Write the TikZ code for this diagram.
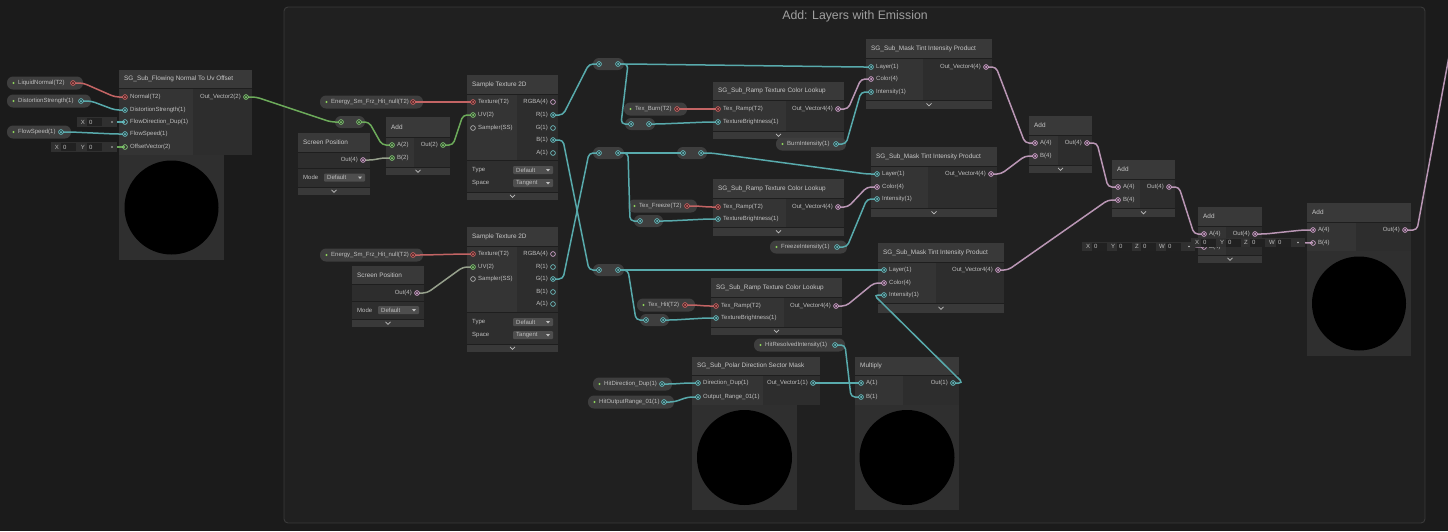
\documentclass[tikz,border=0pt]{standalone}
\usepackage{fontspec}
\setmainfont{Liberation Sans}
\usetikzlibrary{calc}
\pgfdeclarelayer{bodies}
\pgfdeclarelayer{wires}
\pgfsetlayers{bodies,wires,main}
\definecolor{bgc}{RGB}{27,27,27}
\definecolor{grpc}{RGB}{32,32,32}
\definecolor{frmc}{RGB}{58,58,58}
\definecolor{hdrc}{RGB}{57,57,57}
\definecolor{inc}{RGB}{52,52,52}
\definecolor{outc}{RGB}{45,45,45}
\definecolor{sepc}{RGB}{30,30,30}
\definecolor{optc}{RGB}{46,46,46}
\definecolor{prevc}{RGB}{47,47,47}
\definecolor{pillc}{RGB}{62,62,62}
\definecolor{ddc}{RGB}{78,78,78}
\definecolor{fldc}{RGB}{48,48,48}
\definecolor{fldv}{RGB}{33,33,33}
\definecolor{lblc}{RGB}{190,190,190}
\definecolor{ttlc}{RGB}{200,200,200}
\definecolor{grtc}{RGB}{160,160,160}
\definecolor{dotc}{RGB}{140,210,90}
\definecolor{cyp}{RGB}{120,210,213}
\definecolor{pkp}{RGB}{230,180,225}
\definecolor{grp}{RGB}{145,220,130}
\definecolor{rdp}{RGB}{225,110,110}
\definecolor{gyp}{RGB}{190,190,190}
\definecolor{cyw}{RGB}{88,170,172}
\definecolor{pkw}{RGB}{185,150,180}
\definecolor{grw}{RGB}{108,170,90}
\definecolor{rdw}{RGB}{195,100,100}
\definecolor{mxw}{RGB}{150,160,140}
\newcommand\lblfont{\fontsize{6}{7}\selectfont}
\newcommand\ttlfont{\fontsize{6.4}{7.5}\selectfont}
\newcommand\grfont{\fontsize{12.3}{14}\selectfont}
\tikzset{
 lbl/.style={text=lblc,font=\lblfont,inner sep=0pt},
 ttl/.style={text=ttlc,font=\ttlfont,inner sep=0pt,anchor=west},
 prt/.style={circle,draw=#1,line width=0.6pt,fill=#1!30!black,inner sep=0pt,minimum size=4.8pt,path picture={\fill[#1] (path picture bounding box.center) circle (1pt);}},
 prth/.style={circle,draw=#1,line width=0.6pt,fill=none,inner sep=0pt,minimum size=4.8pt},
 wr/.style={draw=#1,line width=1.5pt,rounded corners=4pt},
}
% node frame: name x1 top x2 headerbottom bodybottom split title
\newcommand\sgframe[8]{%
 \begin{pgfonlayer}{bodies}
 \fill[hdrc] (#2,#3) rectangle (#4,#5);
 \fill[inc] (#2,#5) rectangle (#7,#6);
 \fill[outc] (#7,#5) rectangle (#4,#6);
 \draw[sepc,line width=0.8pt] (#2,#5) -- (#4,#5);
 \end{pgfonlayer}
 \node[ttl] (#1) at ({#2+5},{(#3+#5)/2}) {#8};}
% footer: name x1 x2 y1 y2
\newcommand\sgfoot[5]{%
 \begin{pgfonlayer}{bodies}
 \fill[hdrc] (#2,#4) rectangle (#3,#5);
 \draw[sepc,line width=0.8pt] (#2,#4) -- (#3,#4);
 \end{pgfonlayer}
 \coordinate (#1) at ({(#2+#3)/2},{(#4+#5)/2});
 \draw[lblc,line width=0.7pt] ($(#1)+(-2.5,-1.2)$) -- ($(#1)+(0,1.3)$) -- ($(#1)+(2.5,-1.2)$);}
\newcommand\pin[5]{%
 \node[#4] (#1) at (#2,#3) {};
 \node[lbl,anchor=west] (#1-t) at ({#2+5},#3) {#5};}
\newcommand\pout[5]{%
 \node[#4] (#1) at (#2,#3) {};
 \node[lbl,anchor=east] (#1-t) at ({#2-5},#3) {#5};}
% pill: name x1 x2 y portstyle label
\newcommand\pill[6]{%
 \begin{pgfonlayer}{bodies}
 \fill[pillc,rounded corners=6pt] (#2,{#4-6.5}) rectangle (#3,{#4+6.5});
 \end{pgfonlayer}
 \fill[dotc] ({#2+6.5},#4) circle (1.2pt);
 \node[lbl,anchor=west] (#1-t) at ({#2+11},#4) {#6};
 \node[#5] (#1) at ({#3-10},#4) {};}
% reroute: name x1 x2 y color
\newcommand\rer[5]{%
 \begin{pgfonlayer}{bodies}
 \fill[pillc,rounded corners=6pt] (#2,{#4-6}) rectangle (#3,{#4+6});
 \end{pgfonlayer}
 \node[prt=#5] (#1-i) at ({#2+6},#4) {};
 \node[prt=#5] (#1-o) at ({#3-6},#4) {};}
% dropdown: name x1 x2 y text
\newcommand\ddown[5]{%
 \begin{pgfonlayer}{bodies}
 \fill[ddc,rounded corners=1pt] (#2,{#4-4}) rectangle (#3,{#4+4});
 \end{pgfonlayer}
 \node[lbl,anchor=west] (#1) at ({#2+3},#4) {#5};
 \fill[lblc] ({#3-7},{#4-1}) -- ({#3-3},{#4-1}) -- ({#3-5},{#4+1.5}) -- cycle;}
% field segment: name x y letter
\newcommand\fseg[4]{%
 \node[lbl] (#1) at (#2,#3) {#4};
 \fill[fldv] ({#2+4},{#3-4}) rectangle ({#2+19},{#3+4});
 \node[lbl,anchor=west] (#1v) at ({#2+6},#3) {0};}
\newcommand\wire[3]{\draw[wr=#1] (#2.center) -- ++(10,0) -- ($(#3.center)+(-10,0)$) -- (#3.center);}
\begin{document}
\begin{tikzpicture}[x=1pt,y=-1pt]
\useasboundingbox (0,0) rectangle (1448,531);
\begin{pgfonlayer}{bodies}
\fill[bgc] (0,0) rectangle (1448,531);
\draw[frmc,fill=grpc,rounded corners=4pt,line width=0.9pt] (284,7) rectangle (1425,523);
\end{pgfonlayer}
\node[font=\grfont,text=grtc,inner sep=0pt] (gtitle) at (855,16) {Add: Layers with Emission};

% ---- left inputs
\pill{pLN}{7}{83}{83}{prt=rdp}{LiquidNormal(T2)}
\pill{pDS}{7}{91}{101}{prt=cyp}{DistortionStrength(1)}
\pill{pFS}{7}{71}{132}{prt=cyp}{FlowSpeed(1)}

% ---- Flowing normal node
\sgframe{F}{119}{70}{252}{88}{155}{193}{SG\_Sub\_Flowing Normal To Uv Offset}
\pin{F-n}{125}{97}{prt=rdp}{Normal(T2)}
\pin{F-d}{125}{110}{prt=cyp}{DistortionStrength(1)}
\pin{F-fd}{125}{122}{prth=cyp}{FlowDirection\_Dup(1)}
\pin{F-fs}{125}{134}{prt=cyp}{FlowSpeed(1)}
\pin{F-ov}{125}{147}{prth=grp}{OffsetVector(2)}
\pout{F-o}{246}{97}{prt=grp}{Out\_Vector2(2)}
\begin{pgfonlayer}{bodies}
\fill[prevc] (119,155) rectangle (224,260);
\fill[black] (171.5,207.5) circle (47);
\end{pgfonlayer}
\fill[fldc] (77,117) rectangle (117,127);
\fseg{fa1}{83}{122}{X}
\coordinate (fdot1) at (112,122);
\fill[lblc] (fdot1) circle (0.9pt);
\fill[fldc] (51,142) rectangle (117,152);
\fseg{fb1}{57}{147}{X}
\fseg{fb2}{83}{147}{Y}
\coordinate (fdot2) at (112,147);
\fill[lblc] (fdot2) circle (0.9pt);

% ---- reroute, screen position 1, add
\rer{R0}{335}{365}{122}{grp}
\sgframe{SP1}{298}{133}{370}{152}{168}{298}{Screen Position}
\pout{SP1-o}{363}{160}{prt=pkp}{Out(4)}
\begin{pgfonlayer}{bodies}
\fill[optc] (298,168) rectangle (370,187);
\draw[sepc,line width=0.8pt] (298,168) -- (370,168);
\end{pgfonlayer}
\node[lbl,anchor=west] (SP1-m) at (303,177.5) {Mode};
\ddown{SP1-dd}{324}{365}{177.5}{Default}
\sgfoot{SP1-f}{298}{370}{187}{195}

\sgframe{A1}{386}{117}{450}{137}{167}{414}{Add}
\pin{A1-a}{392}{145}{prt=grp}{A(2)}
\pin{A1-b}{392}{158}{prt=grp}{B(2)}
\pout{A1-o}{443}{145}{prt=grp}{Out(2)}
\sgfoot{A1-f}{386}{450}{167}{175}

\pill{pE1}{320}{423}{102}{prt=rdp}{Energy\_Sm\_Frz\_Hit\_null(T2)}

% ---- sample texture 1
\sgframe{S1}{467}{75}{558}{94}{160}{517}{Sample Texture 2D}
\pin{S1-t}{473}{102}{prt=rdp}{Texture(T2)}
\pin{S1-uv}{473}{115}{prt=grp}{UV(2)}
\pin{S1-s}{473}{128}{prth=gyp}{Sampler(SS)}
\pout{S1-rgba}{553}{102}{prth=pkp}{RGBA(4)}
\pout{S1-r}{553}{115}{prt=cyp}{R(1)}
\pout{S1-g}{553}{128}{prth=cyp}{G(1)}
\pout{S1-b}{553}{140}{prt=cyp}{B(1)}
\pout{S1-a}{553}{153}{prth=cyp}{A(1)}
\begin{pgfonlayer}{bodies}
\fill[optc] (467,160) rectangle (558,192);
\draw[sepc,line width=0.8pt] (467,160) -- (558,160);
\end{pgfonlayer}
\node[lbl,anchor=west] (S1-ty) at (472,170) {Type};
\ddown{S1-d1}{513}{553}{170}{Default}
\node[lbl,anchor=west] (S1-sp) at (472,183) {Space};
\ddown{S1-d2}{513}{553}{183}{Tangent}
\sgfoot{S1-f}{467}{558}{192}{200}

% ---- second row left
\pill{pE2}{320}{423}{255}{prt=rdp}{Energy\_Sm\_Frz\_Hit\_null(T2)}
\sgframe{SP2}{352}{266}{424}{284}{301}{352}{Screen Position}
\pout{SP2-o}{417}{293}{prt=pkp}{Out(4)}
\begin{pgfonlayer}{bodies}
\fill[optc] (352,301) rectangle (424,319);
\draw[sepc,line width=0.8pt] (352,301) -- (424,301);
\end{pgfonlayer}
\node[lbl,anchor=west] (SP2-m) at (357,310) {Mode};
\ddown{SP2-dd}{378}{419}{310}{Default}
\sgfoot{SP2-f}{352}{424}{319}{327}

\sgframe{S2}{467}{227}{558}{246}{312}{517}{Sample Texture 2D}
\pin{S2-t}{473}{254}{prt=rdp}{Texture(T2)}
\pin{S2-uv}{473}{267}{prt=grp}{UV(2)}
\pin{S2-s}{473}{279}{prth=gyp}{Sampler(SS)}
\pout{S2-rgba}{553}{254}{prth=pkp}{RGBA(4)}
\pout{S2-r}{553}{267}{prth=cyp}{R(1)}
\pout{S2-g}{553}{279}{prt=cyp}{G(1)}
\pout{S2-b}{553}{292}{prth=cyp}{B(1)}
\pout{S2-a}{553}{304}{prth=cyp}{A(1)}
\begin{pgfonlayer}{bodies}
\fill[optc] (467,312) rectangle (558,344);
\draw[sepc,line width=0.8pt] (467,312) -- (558,312);
\end{pgfonlayer}
\node[lbl,anchor=west] (S2-ty) at (472,322) {Type};
\ddown{S2-d1}{513}{553}{322}{Default}
\node[lbl,anchor=west] (S2-sp) at (472,335) {Space};
\ddown{S2-d2}{513}{553}{335}{Tangent}
\sgfoot{S2-f}{467}{558}{344}{352}

% ---- reroutes
\rer{R1}{593}{624}{64}{cyp}
\rer{R1b}{625}{655}{124}{cyp}
\rer{R2}{593}{624}{153}{cyp}
\rer{R2b}{677}{707}{153}{cyp}
\rer{R2c}{634}{663}{221}{cyp}
\rer{R3}{593}{624}{270}{cyp}
\rer{R3b}{640}{669}{320}{cyp}

% ---- burn layer
\pill{pBurn}{624}{687}{109}{prt=rdp}{Tex\_Burn(T2)}
\sgframe{Rp1}{713}{82}{844}{100}{131}{786}{SG\_Sub\_Ramp Texture Color Lookup}
\pin{Rp1-t}{718}{109}{prt=rdp}{Tex\_Ramp(T2)}
\pin{Rp1-b}{718}{122}{prt=cyp}{TextureBrightness(1)}
\pout{Rp1-o}{838}{109}{prt=pkp}{Out\_Vector4(4)}
\sgfoot{Rp1-f}{713}{844}{131}{139}
\pill{pBI}{776}{846}{144}{prt=cyp}{BurnIntensity(1)}
\sgframe{M1}{866}{39}{992}{58}{100}{923}{SG\_Sub\_Mask Tint Intensity Product}
\pin{M1-l}{871}{67}{prt=cyp}{Layer(1)}
\pin{M1-c}{871}{79}{prt=pkp}{Color(4)}
\pin{M1-i}{871}{92}{prt=cyp}{Intensity(1)}
\pout{M1-o}{986}{67}{prt=pkp}{Out\_Vector4(4)}
\sgfoot{M1-f}{866}{992}{100}{109}

% ---- freeze layer
\pill{pFrz}{628}{697}{206}{prt=rdp}{Tex\_Freeze(T2)}
\sgframe{Rp2}{713}{179}{844}{198}{227}{786}{SG\_Sub\_Ramp Texture Color Lookup}
\pin{Rp2-t}{718}{207}{prt=rdp}{Tex\_Ramp(T2)}
\pin{Rp2-b}{718}{219}{prt=cyp}{TextureBrightness(1)}
\pout{Rp2-o}{838}{207}{prt=pkp}{Out\_Vector4(4)}
\sgfoot{Rp2-f}{713}{844}{227}{236}
\pill{pFI}{770}{847}{247}{prt=cyp}{FreezeIntensity(1)}
\sgframe{M2}{871}{147}{997}{166}{208}{928}{SG\_Sub\_Mask Tint Intensity Product}
\pin{M2-l}{877}{174}{prt=cyp}{Layer(1)}
\pin{M2-c}{877}{187}{prt=pkp}{Color(4)}
\pin{M2-i}{877}{199}{prt=cyp}{Intensity(1)}
\pout{M2-o}{991}{174}{prt=pkp}{Out\_Vector4(4)}
\sgfoot{M2-f}{871}{997}{208}{217}

% ---- hit layer
\pill{pHit}{637}{695}{305}{prt=rdp}{Tex\_Hit(T2)}
\sgframe{Rp3}{711}{278}{842}{297}{327}{784}{SG\_Sub\_Ramp Texture Color Lookup}
\pin{Rp3-t}{716}{306}{prt=rdp}{Tex\_Ramp(T2)}
\pin{Rp3-b}{716}{318}{prt=cyp}{TextureBrightness(1)}
\pout{Rp3-o}{836}{306}{prt=pkp}{Out\_Vector4(4)}
\sgfoot{Rp3-f}{711}{842}{327}{335}
\sgframe{M3}{878}{243}{1004}{262}{303}{936}{SG\_Sub\_Mask Tint Intensity Product}
\pin{M3-l}{884}{270}{prt=cyp}{Layer(1)}
\pin{M3-c}{884}{283}{prt=pkp}{Color(4)}
\pin{M3-i}{884}{295}{prt=cyp}{Intensity(1)}
\pout{M3-o}{998}{270}{prt=pkp}{Out\_Vector4(4)}
\sgfoot{M3-f}{878}{1004}{303}{313}
\pill{pHRI}{754}{845}{345}{prt=cyp}{HitResolvedIntensity(1)}

% ---- polar + multiply
\pill{pHD}{593}{672}{384}{prt=cyp}{HitDirection\_Dup(1)}
\pill{pHOR}{588}{674}{402}{prt=cyp}{HitOutputRange\_01(1)}
\sgframe{P}{692}{357}{820}{375}{405}{763}{SG\_Sub\_Polar Direction Sector Mask}
\pin{P-d}{698}{383}{prt=cyp}{Direction\_Dup(1)}
\pin{P-r}{698}{397}{prt=cyp}{Output\_Range\_01(1)}
\pout{P-o}{813}{383}{prt=cyp}{Out\_Vector1(1)}
\sgframe{X}{855}{357}{959}{375}{405}{903}{Multiply}
\pin{X-a}{861}{383}{prt=cyp}{A(1)}
\pin{X-b}{861}{397}{prt=cyp}{B(1)}
\pout{X-o}{953}{383}{prt=cyp}{Out(1)}
\begin{pgfonlayer}{bodies}
\fill[prevc] (692,405) rectangle (797,510);
\fill[black] (744.5,457.5) circle (47.5);
\fill[prevc] (855,405) rectangle (959,510);
\fill[black] (907,457.5) circle (47.5);
\end{pgfonlayer}

% ---- add chain
\sgframe{AA}{1029}{116}{1092}{135}{165}{1058}{Add}
\pin{AA-a}{1035}{143}{prt=pkp}{A(4)}
\pin{AA-b}{1035}{156}{prt=pkp}{B(4)}
\pout{AA-o}{1087}{143}{prt=pkp}{Out(4)}
\sgfoot{AA-f}{1029}{1092}{165}{173}
\sgframe{AB}{1112}{160}{1175}{179}{208}{1140}{Add}
\pin{AB-a}{1118}{187}{prt=pkp}{A(4)}
\pin{AB-b}{1118}{200}{prt=pkp}{B(4)}
\pout{AB-o}{1169}{187}{prt=pkp}{Out(4)}
\sgfoot{AB-f}{1112}{1175}{208}{217}
\sgframe{AC}{1198}{207}{1262}{226}{255}{1226}{Add}
\pin{AC-a}{1204}{234}{prt=pkp}{A(4)}
\pin{AC-b}{1204}{247}{prth=pkp}{B(4)}
\pout{AC-o}{1255}{234}{prt=pkp}{Out(4)}
\sgfoot{AC-f}{1198}{1262}{255}{263}
\sgframe{AD}{1307}{203}{1411}{222}{251}{1356}{Add}
\pin{AD-a}{1313}{230}{prt=pkp}{A(4)}
\pin{AD-b}{1313}{243}{prth=pkp}{B(4)}
\pout{AD-o}{1405}{230}{prt=pkp}{Out(4)}
\begin{pgfonlayer}{bodies}
\fill[prevc] (1307,251) rectangle (1411,356);
\fill[black] (1359,303.5) circle (47);
\end{pgfonlayer}
\fill[fldc] (1082,242) rectangle (1195,251);
\fseg{fc1}{1088}{246.5}{X}
\fseg{fc2}{1113}{246.5}{Y}
\fseg{fc3}{1137}{246.5}{Z}
\fseg{fc4}{1162}{246.5}{W}
\coordinate (fdot3) at (1189,246.5);
\fill[lblc] (fdot3) circle (0.9pt);
\fill[fldc] (1191,238) rectangle (1305,247);
\fseg{fd1}{1197}{242.5}{X}
\fseg{fd2}{1222}{242.5}{Y}
\fseg{fd3}{1246}{242.5}{Z}
\fseg{fd4}{1272}{242.5}{W}
\coordinate (fdot4) at (1298,242.5);
\fill[lblc] (fdot4) circle (0.9pt);
\coordinate (endc) at (1452,40);

% ---- wires
\begin{pgfonlayer}{wires}
\wire{rdw}{pLN}{F-n}
\wire{cyw}{pDS}{F-d}
\draw[wr=cyw] (fdot1) -- (F-fd.center);
\wire{cyw}{pFS}{F-fs}
\draw[wr=grw] (fdot2) -- (F-ov.center);
\wire{grw}{F-o}{R0-i}
\wire{grw}{R0-o}{A1-a}
\wire{mxw}{SP1-o}{A1-b}
\wire{rdw}{pE1}{S1-t}
\wire{grw}{A1-o}{S1-uv}
\wire{rdw}{pE2}{S2-t}
\wire{mxw}{SP2-o}{S2-uv}
\wire{cyw}{S1-r}{R1-i}
\wire{cyw}{S1-b}{R3-i}
\wire{cyw}{S2-g}{R2-i}
\wire{cyw}{R1-o}{M1-l}
\wire{cyw}{R1-o}{R1b-i}
\wire{cyw}{R1b-o}{Rp1-b}
\wire{rdw}{pBurn}{Rp1-t}
\wire{pkw}{Rp1-o}{M1-c}
\wire{cyw}{pBI}{M1-i}
\wire{cyw}{R2-o}{R2b-i}
\wire{cyw}{R2b-o}{M2-l}
\wire{cyw}{R2-o}{R2c-i}
\wire{cyw}{R2c-o}{Rp2-b}
\wire{rdw}{pFrz}{Rp2-t}
\wire{pkw}{Rp2-o}{M2-c}
\wire{cyw}{pFI}{M2-i}
\wire{cyw}{R3-o}{M3-l}
\wire{cyw}{R3-o}{R3b-i}
\wire{cyw}{R3b-o}{Rp3-b}
\wire{rdw}{pHit}{Rp3-t}
\wire{pkw}{Rp3-o}{M3-c}
\wire{cyw}{pHD}{P-d}
\wire{cyw}{pHOR}{P-r}
\wire{cyw}{P-o}{X-a}
\wire{cyw}{pHRI}{X-b}
\wire{cyw}{X-o}{M3-i}
\wire{pkw}{M1-o}{AA-a}
\wire{pkw}{M2-o}{AA-b}
\wire{pkw}{AA-o}{AB-a}
\wire{pkw}{M3-o}{AB-b}
\wire{pkw}{AB-o}{AC-a}
\draw[wr=pkw] (fdot3) -- (AC-b.center);
\wire{pkw}{AC-o}{AD-a}
\draw[wr=pkw] (fdot4) -- (AD-b.center);
\draw[wr=pkw] (AD-o.center) -- ++(12,0) -- (endc);
\end{pgfonlayer}
\end{tikzpicture}
\end{document}
